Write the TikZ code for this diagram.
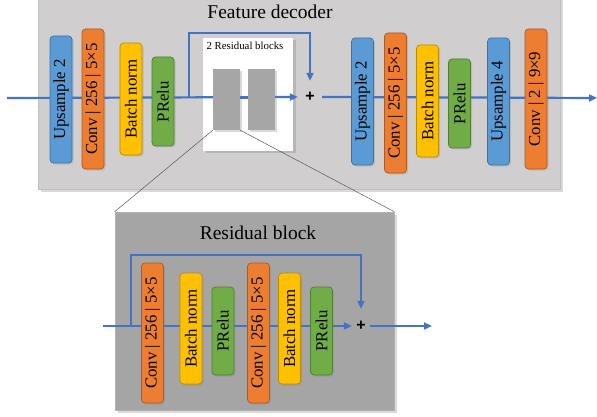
\documentclass[tikz,border=0pt]{standalone}
\usepackage{fontspec}
\setmainfont{Liberation Serif}
\setsansfont{Liberation Sans}
\usetikzlibrary{arrows.meta,shadows}
\definecolor{cblue}{HTML}{5B9BD5}
\definecolor{cblueD}{HTML}{41719C}
\definecolor{corange}{HTML}{ED7D31}
\definecolor{corangeD}{HTML}{AE5A21}
\definecolor{cyellow}{HTML}{FFC000}
\definecolor{cyellowD}{HTML}{BC8C00}
\definecolor{cgreen}{HTML}{70AD47}
\definecolor{cgreenD}{HTML}{507E32}
\definecolor{cline}{HTML}{4472C4}
\definecolor{panelA}{HTML}{D0CECE}
\definecolor{panelB}{HTML}{A5A5A5}
\tikzset{
  blk/.style={rounded corners=3.5pt, line width=0.7pt, rotate=90, minimum height=22pt,
    inner sep=0pt, text=black, font=\fontsize{16.8}{18}\selectfont,
    drop shadow={shadow xshift=1.5pt, shadow yshift=-1.5pt, opacity=0.25}},
  upb/.style={blk, fill=cblue, draw=cblueD},
  cvb/.style={blk, fill=corange, draw=corangeD},
  bnb/.style={blk, fill=cyellow, draw=cyellowD},
  prb/.style={blk, fill=cgreen, draw=cgreenD},
  flow/.style={draw=cline, line width=2.2pt},
  flowa/.style={flow, -{Triangle[length=8pt,width=7pt]}},
  plusnode/.style={font=\sffamily\bfseries\fontsize{16}{16}\selectfont, inner sep=0pt},
  panel/.style={drop shadow={shadow xshift=2.5pt, shadow yshift=-2.5pt, opacity=0.3}},
  zoomline/.style={draw=black!65, line width=0.5pt},
}
\begin{document}
\begin{tikzpicture}[x=1pt,y=-1pt]
\useasboundingbox (0,0) rectangle (597,417);
% top panel
\begin{scope}
\clip (0,0) rectangle (597,417);
\node[panel, fill=panelA, draw=black!25, line width=0.6pt, minimum width=522pt, minimum height=200pt, inner sep=0pt] (top) at (299,89) {};
\end{scope}
\node[font=\fontsize{19.5}{20}\selectfont] (ttl) at (270,12) {Feature decoder};
% white box
\node[panel, fill=white, minimum width=90pt, minimum height=113pt, inner sep=0pt] (wbox) at (248,94.5) {};
\node[font=\fontsize{10.8}{11}\selectfont] (wttl) at (245,46) {2 Residual blocks};
% bottom panel
\node[panel, fill=panelB, draw=black!30, line width=0.6pt, minimum width=279pt, minimum height=198pt, inner sep=0pt] (bot) at (254.5,311) {};
\node[font=\fontsize{19.5}{20}\selectfont] (bttl) at (258,233) {Residual block};

% ---- top row flows
\coordinate (inL) at (7,98);
\coordinate (sk1) at (189,98);
\coordinate (outR) at (597,98);
\node[plusnode, minimum width=24pt, minimum height=32pt] (plus1) at (310,97) {+};
\draw[flowa] (inL) -- (plus1.west);
\draw[flowa] (sk1) |- (210,33) -| (plus1.north);
\draw[flowa] (plus1.east) -- (outR);

% gray residual blocks
\node[fill=black!35, minimum width=27pt, minimum height=61pt, inner sep=0pt,
  drop shadow={shadow xshift=2pt, shadow yshift=-2pt, opacity=0.3}] (g1) at (226.5,99.5) {};
\node[fill=black!35, minimum width=27pt, minimum height=61pt, inner sep=0pt,
  drop shadow={shadow xshift=2pt, shadow yshift=-2pt, opacity=0.3}] (g2) at (261.5,99.5) {};
\draw[flow] (g1.east |- 0,98) -- (g2.west |- 0,98);

% top-left blocks
\node[upb, minimum width=127pt] (u1) at (61,99.5) {Upsample 2};
\node[cvb, minimum width=140pt] (c1) at (93,99) {Conv | 256 | 5×5};
\node[bnb, minimum width=112pt] (b1) at (131,99) {Batch norm};
\node[prb, minimum width=89pt] (p1) at (163,101.5) {PRelu};
% top-right blocks
\node[upb, minimum width=127pt] (u2) at (362.5,101.5) {Upsample 2};
\node[cvb, minimum width=140pt] (c2) at (395.5,103) {Conv | 256 | 5×5};
\node[bnb, minimum width=112pt] (b2) at (427.5,101) {Batch norm};
\node[prb, minimum width=89pt] (p2) at (459.5,103.5) {PRelu};
\node[upb, minimum width=127pt] (u3) at (498.5,101.5) {Upsample 4};
\node[cvb, minimum width=140pt] (c3) at (536,99) {Conv | 2 | 9×9};

% zoom lines
\draw[zoomline] (g1.south west) -- (bot.north west);
\draw[zoomline] (g1.south east) -- (bot.north east);

% ---- bottom row flows
\coordinate (inB) at (103,326);
\coordinate (sk2) at (131,326);
\coordinate (outB) at (432,326);
\node[plusnode, minimum width=18pt, minimum height=34pt] (plus2) at (361,326) {+};
\draw[flowa] (inB) -- (plus2.west);
\draw[flowa] (sk2) |- (200,255) -| (plus2.north);
\draw[flowa] (plus2.east) -- (outB);

\node[cvb, minimum width=140pt] (c4) at (152.5,333) {Conv | 256 | 5×5};
\node[bnb, minimum width=111pt] (b4) at (191,328.5) {Batch norm};
\node[prb, minimum width=88pt] (p4) at (223,331) {PRelu};
\node[cvb, minimum width=140pt] (c5) at (258.5,333) {Conv | 256 | 5×5};
\node[bnb, minimum width=111pt] (b5) at (289.5,328.5) {Batch norm};
\node[prb, minimum width=88pt] (p5) at (321.5,331) {PRelu};
\end{tikzpicture}
\end{document}
